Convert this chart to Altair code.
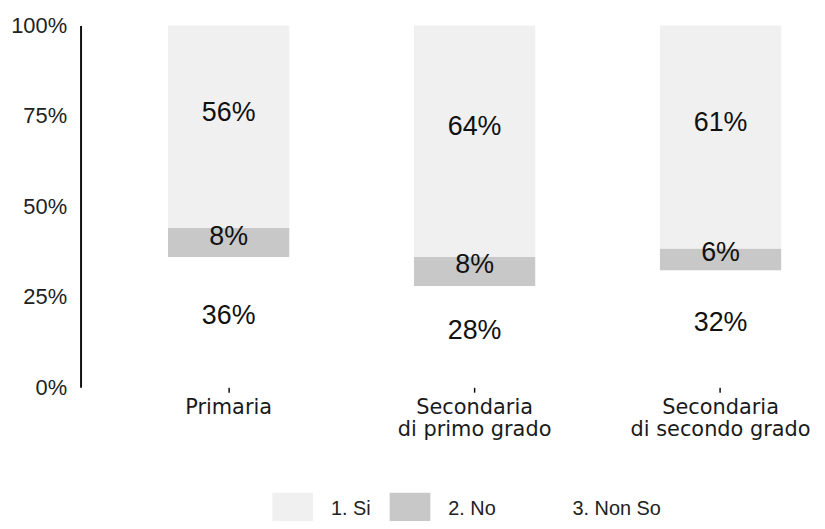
import altair as alt
import pandas as pd

# ---- data ----
categories = ["Primaria", "Secondaria di primo grado", "Secondaria di secondo grado"]
series = ["1. Si", "2. No", "3. Non So"]
si = [56, 64, 61]
no = [8, 8, 6]
nonso = [36, 28, 32]
y_ticks = [0, 0.25, 0.5, 0.75, 1.0]
colors = ["#f0f0f0", "#c8c8c8", "#ffffff"]

# ---- build the table (stack bottom -> top: Non So, No, Si) ----
rows = []
for i, cat in enumerate(categories):
    vals = [("3. Non So", nonso[i]), ("2. No", no[i]), ("1. Si", si[i])]
    total = sum(v for _, v in vals)
    cum = 0.0
    for name, v in vals:
        y0 = cum / total
        cum += v
        y1 = cum / total
        rows.append({"categoria": cat, "serie": name, "valore": v,
                     "y0": y0, "y1": y1, "mid": (y0 + y1) / 2,
                     "testo": f"{v}%"})
df = pd.DataFrame(rows)

x_enc = alt.X(
    "categoria:N", sort=categories, title=None,
    scale=alt.Scale(paddingInner=0.507, paddingOuter=0.192, align=0.926),
    axis=alt.Axis(
        labelAngle=0, domain=False, ticks=True, tickSize=5, tickWidth=1.5,
        tickColor="#111", labelFont="DejaVu Sans", labelFontSize=21,
        labelColor="#1a1a1a", labelPadding=4, labelLineHeight=23,
        labelBaseline="top", labelLimit=400,
        labelExpr="datum.label == 'Primaria' ? datum.label : [slice(datum.label, 0, 10), slice(datum.label, 11)]",
    ),
)

bars = alt.Chart(df).mark_bar().encode(
    x=x_enc,
    y=alt.Y(
        "y0:Q", title=None, scale=alt.Scale(domain=[0, 1], nice=False),
        axis=alt.Axis(
            values=y_ticks, format=".0%", ticks=False, grid=False,
            domain=True, domainColor="#111", domainWidth=2,
            labelFont="Liberation Sans", labelFontSize=22,
            labelColor="#222", labelPadding=14,
        ),
    ),
    y2="y1:Q",
    color=alt.Color(
        "serie:N",
        scale=alt.Scale(domain=series, range=colors),
        legend=alt.Legend(
            title=None, orient="none", direction="horizontal",
            legendX=193, legendY=466,
            symbolType="M-1,-0.8H1V0.8H-1Z", symbolSize=1681, symbolStrokeWidth=0,
            labelFont="Liberation Sans", labelFontSize=20, labelColor="#222",
            labelOffset=18, columnPadding=18,
        ),
    ),
)

labels_si = alt.Chart(df).transform_filter(alt.datum.serie == "1. Si").mark_text(
    font="Liberation Sans", fontSize=27, color="#111", dy=-14
).encode(x=alt.X("categoria:N", sort=categories), y="mid:Q", text="testo:N")

labels_rest = alt.Chart(df).transform_filter(alt.datum.serie != "1. Si").mark_text(
    font="Liberation Sans", fontSize=27, color="#111", dy=-6
).encode(x=alt.X("categoria:N", sort=categories), y="mid:Q", text="testo:N")

chart = alt.layer(bars, labels_si, labels_rest).properties(
    width=712, height=364,
    autosize=alt.AutoSizeParams(type="none"),
    padding={"left": 73, "top": 16, "right": 29, "bottom": 133},
).configure_view(stroke=None)

chart.save("out.html", embed_options={"renderer": "svg", "actions": False})
